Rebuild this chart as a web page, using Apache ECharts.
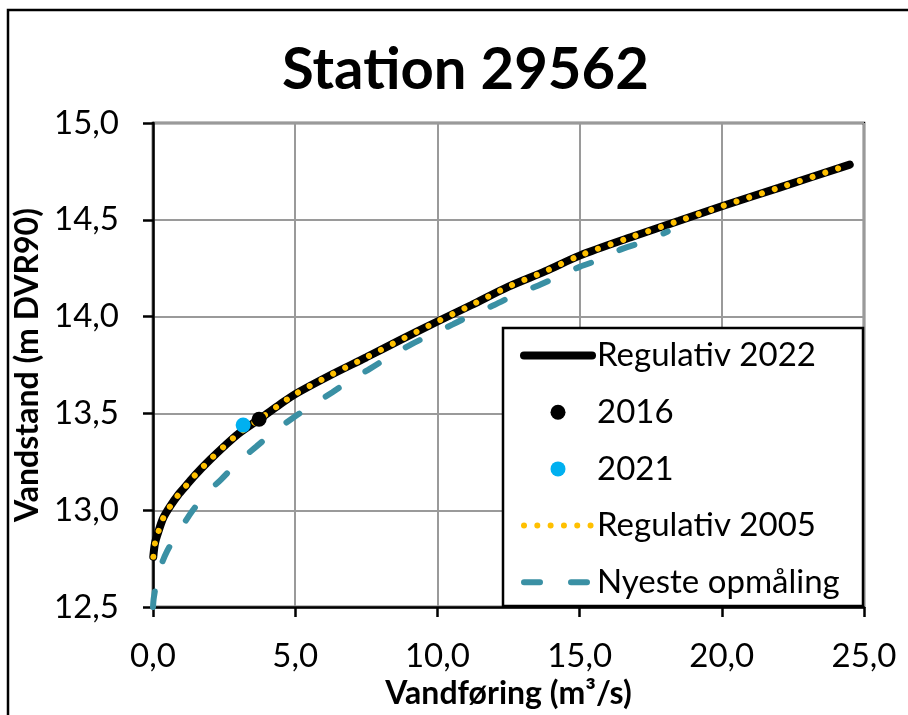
<!DOCTYPE html>
<html>
<head>
<meta charset="utf-8">
<script src="https://cdn.jsdelivr.net/npm/echarts@6/dist/echarts.min.js"></script>
<style>
  html, body { margin: 0; padding: 0; background: #fff; }
  #chart { width: 908px; height: 715px; }
</style>
</head>
<body>
<div id="chart"></div>
<script>
// Rating curves for station 29562: discharge (m³/s) vs. water level (m DVR90)
const q2022 = [0.01, 0.07, 0.19, 0.36, 0.6, 0.89, 1.18, 1.47, 2.0, 2.5, 3.0, 3.73, 4.4, 5.0, 6.2, 7.5, 8.7, 10.0, 11.2, 12.5, 13.8, 15.0, 16.8, 18.5, 20.0, 22.0, 24.5];
const h2022 = [12.76, 12.83, 12.89, 12.96, 13.02, 13.08, 13.13, 13.18, 13.26, 13.33, 13.395, 13.47, 13.54, 13.60, 13.695, 13.79, 13.88, 13.975, 14.06, 14.155, 14.235, 14.315, 14.41, 14.495, 14.57, 14.665, 14.785];

const q2005 = [0.01, 0.07, 0.19, 0.36, 0.6, 0.89, 1.18, 1.47, 2.0, 2.5, 3.0, 3.73, 4.4, 5.0, 6.2, 7.5, 8.7, 10.0, 11.2, 12.5, 13.8, 15.0, 16.8, 18.5, 20.0, 22.0, 24.5];
const h2005 = [12.76, 12.83, 12.89, 12.96, 13.02, 13.08, 13.13, 13.18, 13.26, 13.33, 13.395, 13.47, 13.54, 13.60, 13.695, 13.79, 13.88, 13.975, 14.06, 14.155, 14.235, 14.315, 14.41, 14.495, 14.57, 14.665, 14.785];

const qNyeste = [0.0, 0.03, 0.2, 0.5, 0.95, 1.4, 1.9, 2.4, 3.0, 3.64, 4.25, 4.93, 5.57, 6.31, 7.03, 7.62, 8.44, 9.08, 9.9, 10.54, 11.36, 12.0, 12.83, 13.53, 14.29, 15.0, 15.8, 16.5, 17.33, 18.1];
const hNyeste = [12.50, 12.55, 12.68, 12.79, 12.90, 13.00, 13.09, 13.16, 13.25, 13.33, 13.405, 13.478, 13.54, 13.61, 13.68, 13.73, 13.805, 13.857, 13.916, 13.96, 14.02, 14.06, 14.12, 14.16, 14.21, 14.257, 14.30, 14.35, 14.39, 14.44];

// Single measurements
const point2016 = [3.73, 13.47];
const point2021 = [3.17, 13.44];

const seriesNames = ['Regulativ 2022', '2016', '2021', 'Regulativ 2005', 'Nyeste opmåling'];

const pairs = (xs, ys) => xs.map((x, i) => [x, ys[i]]);
const commaFmt = v => v.toFixed(1).replace('.', ',');

const FONT = 'Lato, "Open Sans", sans-serif';
const hiddenSymbol = { color: 'rgba(0,0,0,0)', borderWidth: 0 };

const chart = echarts.init(document.getElementById('chart'));
chart.setOption({
  animation: false,
  backgroundColor: '#fff',
  title: {
    text: 'Station 29562',
    left: 282,
    top: 41,
    padding: 0,
    textStyle: { fontFamily: FONT, fontWeight: 'bold', fontSize: 58, color: '#000' }
  },
  grid: {
    left: 153, right: 44, top: 123, bottom: 103,
    show: true, borderColor: '#000', borderWidth: 2.5, backgroundColor: 'transparent'
  },
  xAxis: {
    type: 'value', min: 0, max: 25, interval: 5,
    name: 'Vandføring (m³/s)', nameLocation: 'middle', nameGap: 58,
    nameTextStyle: { fontFamily: FONT, fontWeight: 'bold', fontSize: 32, color: '#000' },
    axisLine: { show: true, onZero: false, lineStyle: { color: '#000', width: 2.5 } },
    axisTick: { show: true, length: 10, lineStyle: { color: '#000', width: 2.5 } },
    axisLabel: { formatter: commaFmt, margin: 33, fontFamily: FONT, fontSize: 33, color: '#000' },
    splitLine: { show: true, lineStyle: { color: '#9a9a9a', width: 2 } }
  },
  yAxis: {
    type: 'value', min: 12.5, max: 15, interval: 0.5,
    name: 'Vandstand (m DVR90)', nameLocation: 'middle', nameGap: 95,
    nameTextStyle: { fontFamily: FONT, fontWeight: 'bold', fontSize: 32, color: '#000' },
    axisLine: { show: true, onZero: false, lineStyle: { color: '#000', width: 2.5 } },
    axisTick: { show: true, length: 10, lineStyle: { color: '#000', width: 2.5 } },
    axisLabel: { formatter: commaFmt, margin: 34, fontFamily: FONT, fontSize: 33, color: '#000' },
    splitLine: { show: true, lineStyle: { color: '#9a9a9a', width: 2 } }
  },
  legend: {
    orient: 'vertical',
    left: 503, top: 328,
    padding: [10, 14, 11, 17],
    itemWidth: 68, itemHeight: 15, itemGap: 21.7,
    lineStyle: { width: 'inherit' },
    data: [
      { name: seriesNames[0], itemStyle: hiddenSymbol },
      { name: seriesNames[1] },
      { name: seriesNames[2] },
      { name: seriesNames[3], itemStyle: hiddenSymbol },
      { name: seriesNames[4], itemStyle: hiddenSymbol }
    ],
    textStyle: { fontFamily: FONT, fontSize: 33, lineHeight: 35, color: '#000' },
    z: 6
  },
  graphic: [
    {
      type: 'rect', z: 5,
      shape: { x: 503, y: 328, width: 360, height: 278 },
      style: { fill: '#fff', stroke: '#000', lineWidth: 2.5 }
    },
    {
      type: 'rect', z: 10, silent: true,
      shape: { x: 8, y: 10, width: 1000, height: 1000 },
      style: { fill: 'none', stroke: '#000', lineWidth: 2.5 }
    }
  ],
  series: [
    {
      name: seriesNames[0], type: 'line', data: pairs(q2022, h2022),
      smooth: 0.3, symbol: 'none', z: 2,
      lineStyle: { color: '#000', width: 8, cap: 'round' },
      itemStyle: { color: '#000' }
    },
    {
      name: seriesNames[1], type: 'scatter', data: [point2016],
      symbol: 'circle', symbolSize: 15, z: 4,
      itemStyle: { color: '#000', opacity: 1 }
    },
    {
      name: seriesNames[2], type: 'scatter', data: [point2021],
      symbol: 'circle', symbolSize: 15, z: 4,
      itemStyle: { color: '#00b0f0', opacity: 1 }
    },
    {
      name: seriesNames[3], type: 'line', data: pairs(q2005, h2005),
      smooth: 0.3, symbol: 'none', z: 3,
      lineStyle: { color: '#ffc000', width: 6, cap: 'round', type: [0.01, 13.3] },
      itemStyle: { color: '#ffc000' }
    },
    {
      name: seriesNames[4], type: 'line', data: pairs(qNyeste, hNyeste),
      smooth: 0.3, symbol: 'none', z: 2,
      lineStyle: { color: '#3a90a4', width: 6, cap: 'round', type: [16, 31] },
      itemStyle: { color: '#3a90a4' }
    }
  ]
});
</script>
</body>
</html>
